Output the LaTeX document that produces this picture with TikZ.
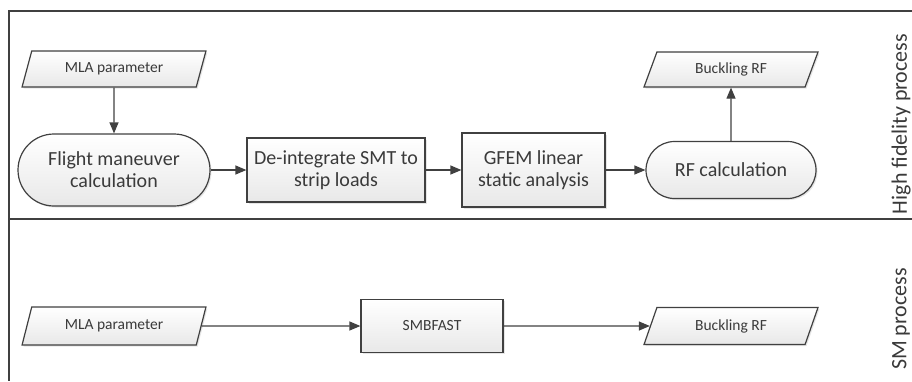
\documentclass[tikz,border=0pt]{standalone}
\usepackage{fontspec}
\setmainfont{Carlito}
\usetikzlibrary{shapes.geometric,arrows.meta,shadows}
\definecolor{ln}{HTML}{404040}
\definecolor{tx}{HTML}{3A3A3A}

\begin{document}
\begin{tikzpicture}[x=1pt, y=-1pt,
    box/.style={draw=ln, line width=1.2pt, top color=white, bottom color=black!9, text=tx,
      font=\fontsize{20}{22}\selectfont, align=center, inner sep=0pt,
      drop shadow={shadow xshift=1.5pt, shadow yshift=-1.5pt, opacity=0.2}},
    proc/.style={box, rectangle},
    term/.style={box, rectangle, rounded corners=#1},
    data/.style={box, trapezium, trapezium left angle=65, trapezium right angle=115,
      trapezium stretches, font=\fontsize{15.5}{18}\selectfont},
    lane/.style={text=tx, font=\fontsize{22}{24}\selectfont, rotate=90},
    flow/.style={draw=ln, line width=1.2pt, -{Triangle[length=11pt, width=9pt]}}]

    \useasboundingbox (0,0) rectangle (912,381);
    \draw[ln, line width=1.3pt] (912,11) -- (9,11) -- (9,381);
    \draw[ln, line width=1.3pt] (9,219) -- (912,219);

    \node[data, minimum width=184, minimum height=36] (mla) at (114,69) {MLA parameter};
    \node[term=36pt, minimum width=192, minimum height=72] (fm) at (114,170) {Flight maneuver\\calculation};
    \node[proc, minimum width=178, minimum height=64] (ds) at (336,170) {De-integrate SMT to\\strip loads};
    \node[proc, minimum width=143, minimum height=74] (gf) at (533.5,170) {GFEM linear\\static analysis};
    \node[term=28.5pt, minimum width=170, minimum height=57] (rf) at (731,170) {RF calculation};
    \node[data, minimum width=175, minimum height=35] (brf) at (731,69.5) {Buckling RF};
    \node[lane] (hf) at (901,124) {High fidelity process};

    \draw [flow] (mla) to (fm);
    \draw [flow] (fm) to (ds);
    \draw [flow] (ds) to (gf);
    \draw [flow] (gf) to (rf);
    \draw [flow] (rf) to (brf);

    \node[data, minimum width=184, minimum height=38] (mlb) at (114,326) {MLA parameter};
    \node[proc, minimum width=142, minimum height=53] (smb) at (432,326) {\fontsize{15.5}{18}\selectfont SMBFAST};
    \node[data, minimum width=175, minimum height=37] (brg) at (731,326) {Buckling RF};
    \node[lane] (sm) at (901,319) {SM process};

    \draw [flow] (mlb) to (smb);
    \draw [flow] (smb) to (brg);

  \end{tikzpicture}
\end{document}
